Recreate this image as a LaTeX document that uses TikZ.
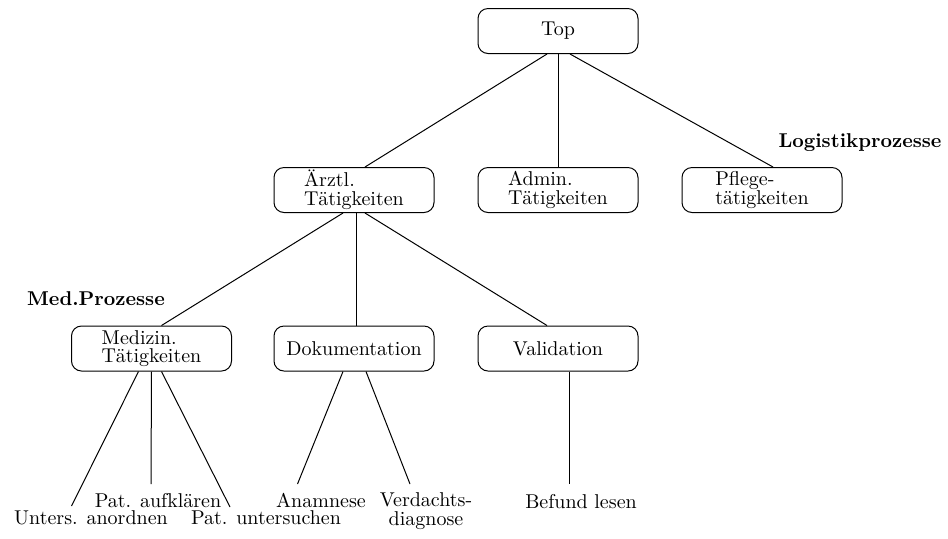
\documentclass[tikz,border=0pt]{standalone}
\usepackage{fontspec}
\tikzset{
  kasten/.style={draw, rounded corners=5pt, minimum width=80pt, minimum height=22.5pt,
    inner sep=0pt, align=left, font=\fontsize{10}{9.3}\selectfont},
  blatt/.style={anchor=base, inner sep=0pt, align=center, font=\fontsize{10}{9.5}\selectfont},
  gruppe/.style={anchor=base, inner sep=0pt, font=\fontsize{10}{12}\selectfont\bfseries}
}
\begin{document}
\begin{tikzpicture}[x=0.5pt, y=-0.5pt, line width=0.5pt]
    \useasboundingbox (0,0) rectangle (948,538);

    % Wurzel und erste Ebene
    \node[kasten] (top) at (558,31) {Top};
    \node[kasten] (aerztl) at (354,190) {Ärztl.\\Tätigkeiten};
    \node[kasten] (admin) at (558,190) {Admin.\\Tätigkeiten};
    \node[kasten] (pflege) at (762,190) {Pflege-\\tätigkeiten};

    % zweite Ebene
    \node[kasten] (medizin) at (151.5,348.5) {Medizin.\\Tätigkeiten};
    \node[kasten] (doku) at (354,348.5) {Dokumentation};
    \node[kasten] (valid) at (558,348.5) {Validation};

    % Gruppenbezeichnungen
    \node[gruppe] (logistik) at (860,147) {Logistikprozesse};
    \node[gruppe] (medproz) at (96,305) {Med.Prozesse};

    % Blaetter
    \node[blatt] (aufklaeren) at (158,507) {Pat. aufklären};
    \node[blatt] (anordnen) at (91,524) {Unters. anordnen};
    \node[blatt] (untersuchen) at (266,524) {Pat. untersuchen};
    \node[blatt] (anamnese) at (321,507) {Anamnese};
    \node[blatt] (verdacht) at (426,525) {Verdachts-\\diagnose};
    \node[blatt] (befund) at (581,508) {Befund lesen};

    % Enden der Aeste ueber den Blaettern
    \coordinate (endeAnordnen) at (71.5,506);
    \coordinate (endeAufklaeren) at (151,484);
    \coordinate (endeUntersuchen) at (230,507);
    \coordinate (endeAnamnese) at (297.5,484);
    \coordinate (endeVerdacht) at (410,484);
    \coordinate (endeBefund) at (569,484);

    % Verbindungen
    \draw ([xshift=-5.5pt]top.south) -- ([xshift=5.5pt]aerztl.north);
    \draw (top.south) -- (admin.north);
    \draw ([xshift=6pt]top.south) -- ([xshift=5.5pt]pflege.north);

    \draw ([xshift=-5.5pt]aerztl.south) -- ([xshift=5pt]medizin.north);
    \draw ([xshift=1pt]aerztl.south) -- ([xshift=1pt]doku.north);
    \draw ([xshift=5.5pt]aerztl.south) -- ([xshift=-5.5pt]valid.north);

    \draw ([xshift=-6.5pt]medizin.south) -- (endeAnordnen);
    \draw (medizin.south) -- (endeAufklaeren);
    \draw ([xshift=5pt]medizin.south) -- (endeUntersuchen);
    \draw ([xshift=-5.5pt]doku.south) -- (endeAnamnese);
    \draw ([xshift=6pt]doku.south) -- (endeVerdacht);
    \draw ([xshift=5.5pt]valid.south) -- (endeBefund);
\end{tikzpicture}
\end{document}
